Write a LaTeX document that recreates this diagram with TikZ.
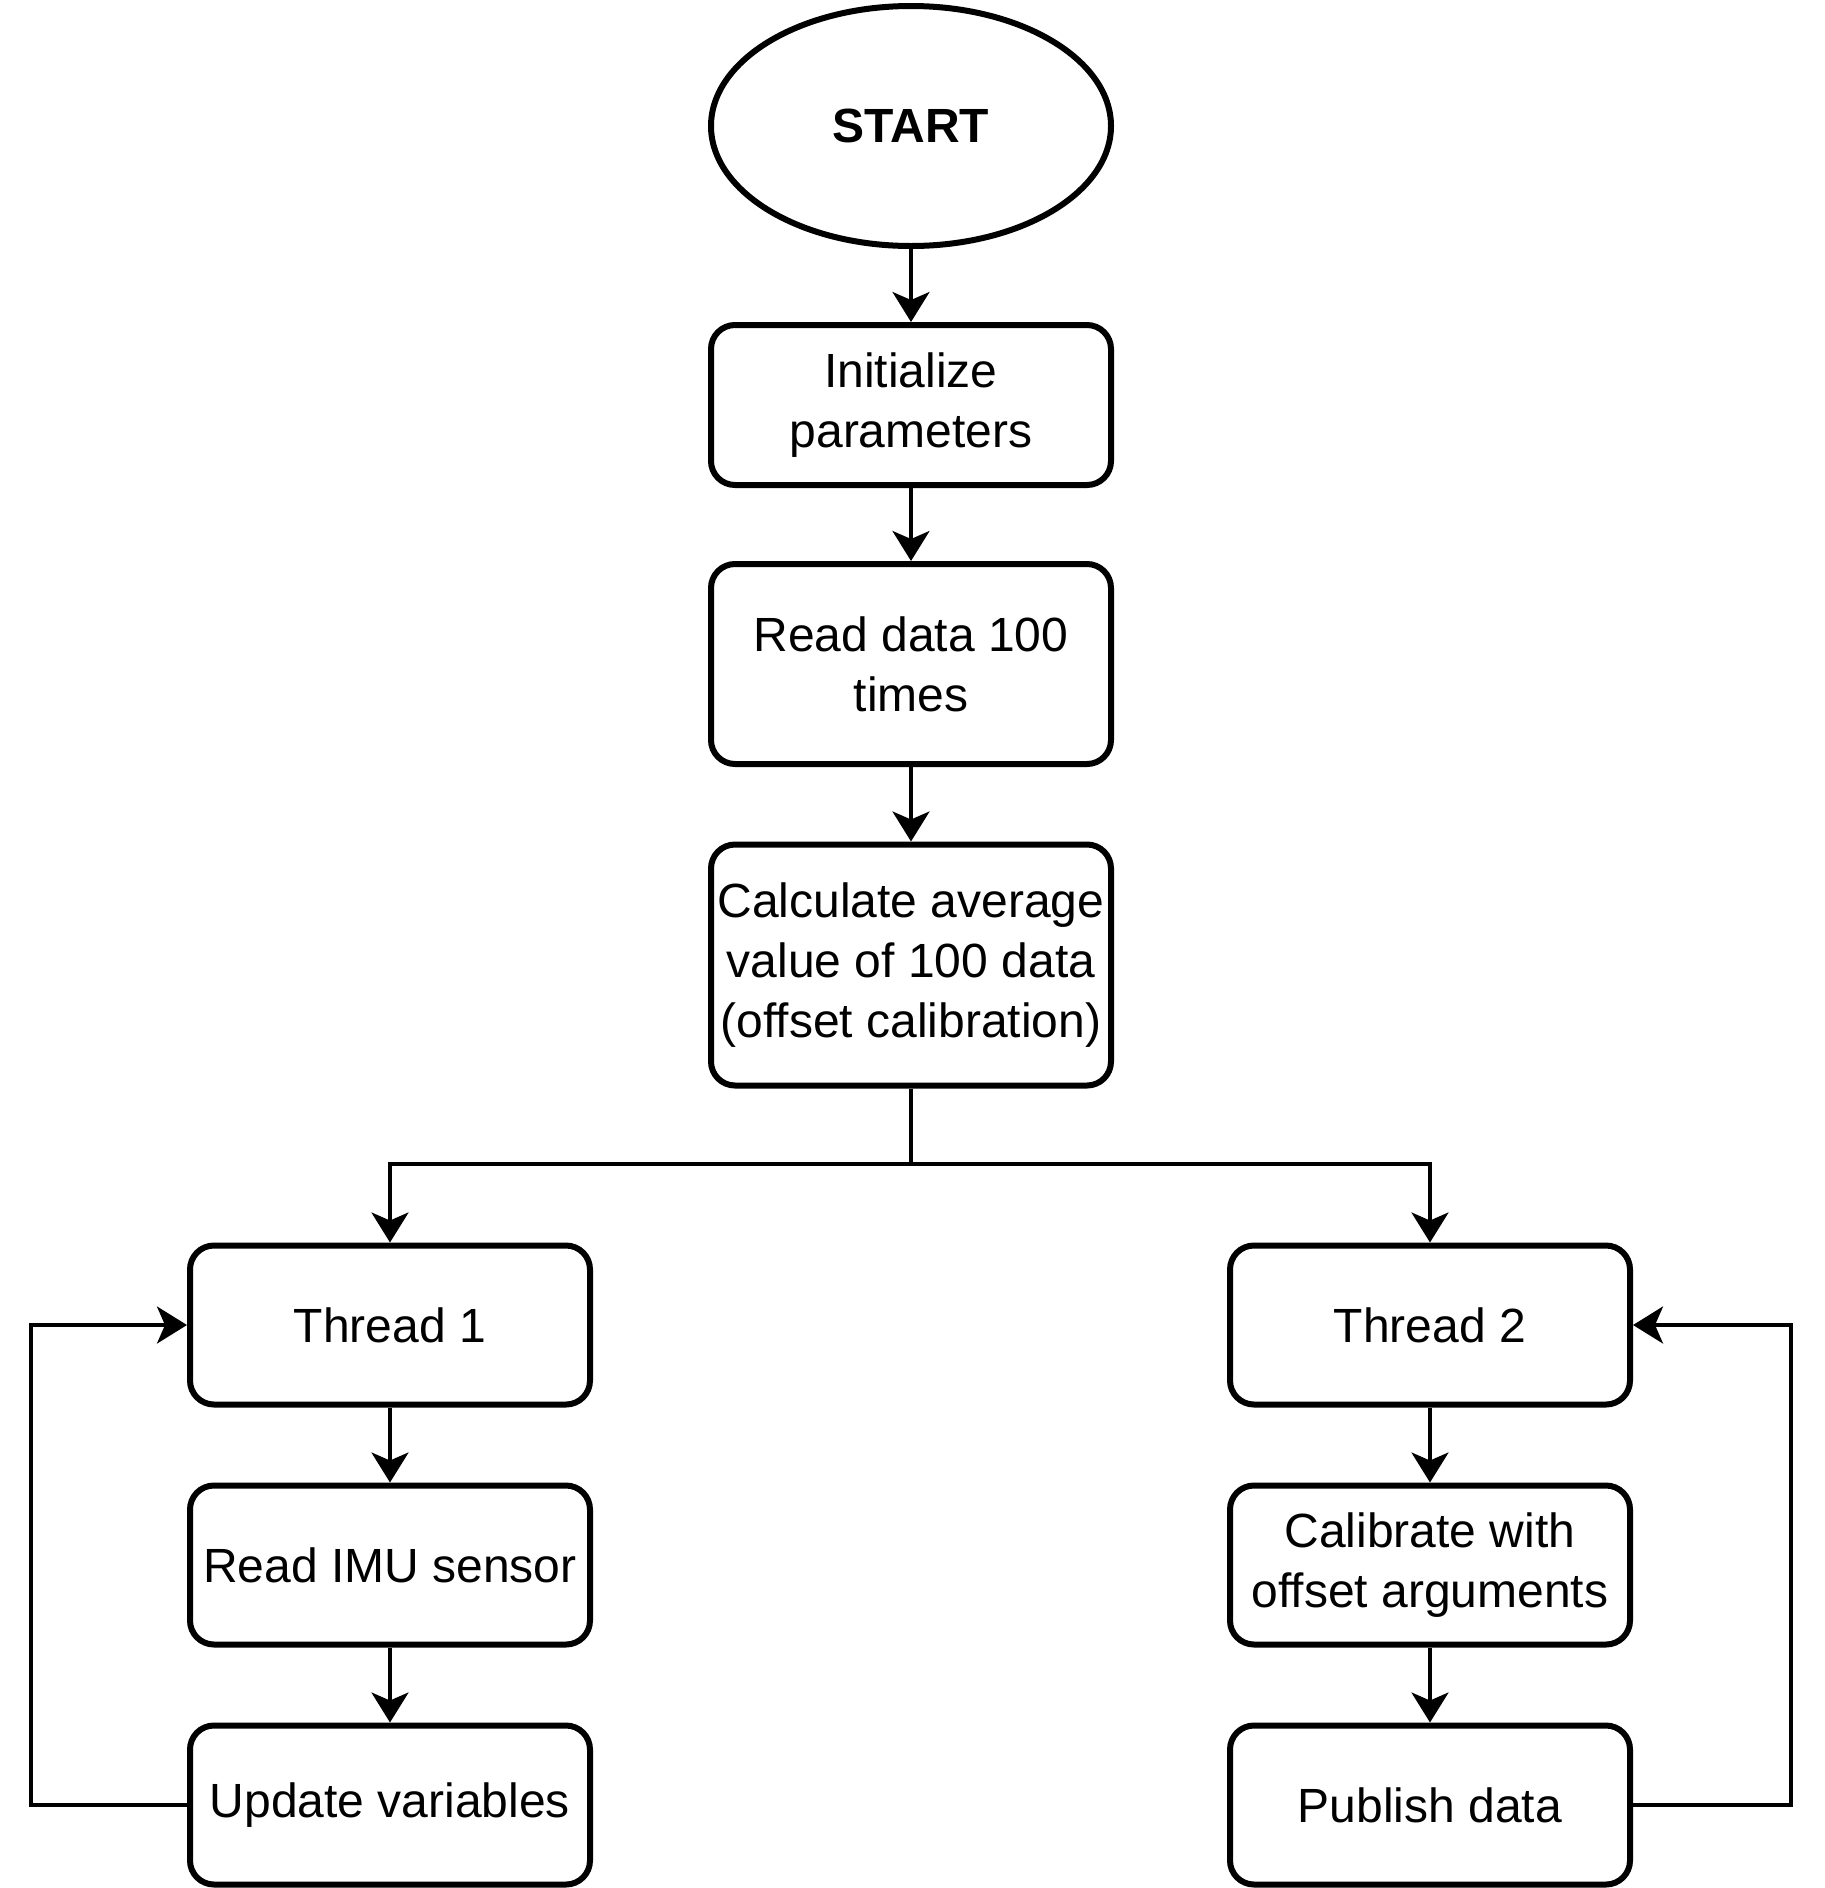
\documentclass[tikz,border=0pt]{standalone}
\usepackage{fontspec}
\setmainfont{Liberation Sans}
\usetikzlibrary{shapes.geometric,arrows.meta}
\begin{document}
\begin{tikzpicture}[x=1pt,y=-1pt,
  box/.style={draw,line width=6pt,rounded corners=24pt,rectangle,minimum width=400pt,align=center,inner sep=2pt,font=\fontsize{48}{60}\selectfont},
  conn/.style={line width=3.6pt},
  arr/.style={conn,-{Stealth[length=30pt,width=37pt,inset=8pt]}}]
\useasboundingbox (0,0) rectangle (1824,1888);
\node[draw,line width=6pt,ellipse,minimum width=400pt,minimum height=240pt,font=\fontsize{48}{60}\selectfont\bfseries] (start) at (911,126) {START};
\node[box,minimum height=160pt] (init) at (911,405) {Initialize\\parameters};
\node[box,minimum height=200pt] (read) at (911,664) {Read data 100\\times};
\node[box,minimum height=241pt] (calc) at (911,965) {Calculate average\\value of 100 data\\(offset calibration)};
\node[box,minimum height=159pt] (t1) at (390,1325) {Thread 1};
\node[box,minimum height=159pt] (imu) at (390,1565) {Read IMU sensor};
\node[box,minimum height=159pt] (upd) at (390,1805) {\raisebox{-5pt}{Update variables}};
\node[box,minimum height=159pt] (t2) at (1430,1325) {Thread 2};
\node[box,minimum height=159pt] (cal) at (1430,1565) {Calibrate with\\offset arguments};
\node[box,minimum height=159pt] (pub) at (1430,1805) {Publish data};
\coordinate (br) at (911,1164);
\coordinate (lx) at (31,1805);
\coordinate (rx) at (1791,1805);
\draw[arr] (start) -- (init);
\draw[arr] (init) -- (read);
\draw[arr] (read) -- (calc);
\draw[conn] (calc.south) -- (br);
\draw[arr] (br) -| (t1.north);
\draw[arr] (br) -| (t2.north);
\draw[arr] (t1) -- (imu);
\draw[arr] (imu) -- (upd);
\draw[arr] (t2) -- (cal);
\draw[arr] (cal) -- (pub);
\draw[arr] (upd.west) -- (lx) |- (t1.west);
\draw[arr] (pub.east) -- (rx) |- (t2.east);
\end{tikzpicture}
\end{document}
